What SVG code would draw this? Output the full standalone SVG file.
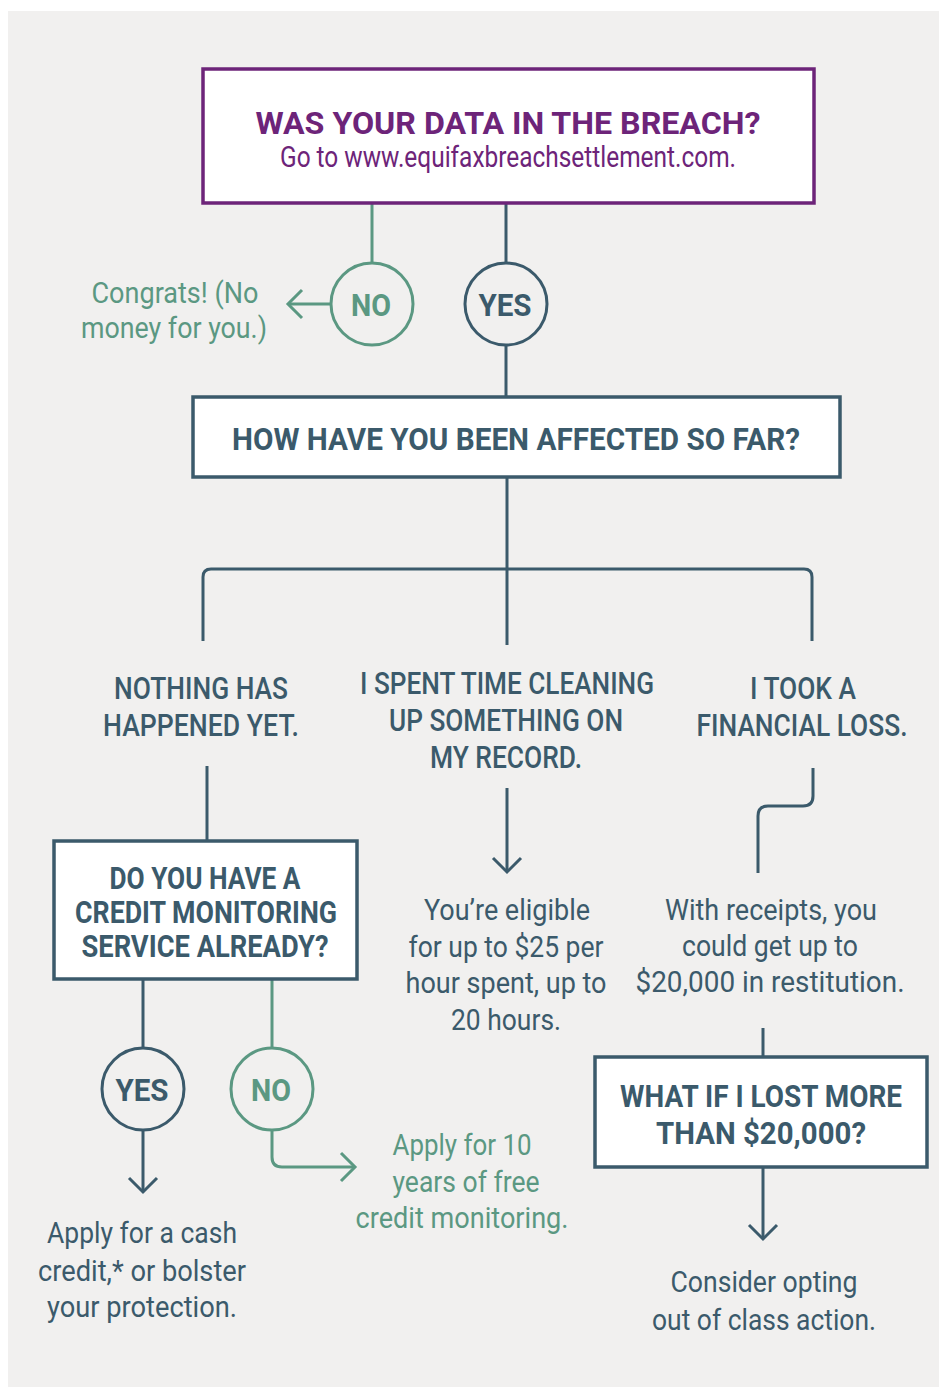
<svg xmlns="http://www.w3.org/2000/svg" width="939" height="1387" viewBox="0 0 939 1387">
<style>
text{font-family:"Roboto","Liberation Sans",sans-serif;}
.h{font-weight:bold;font-size:32px;fill:#3b5a6b;text-anchor:middle;}
.m{font-weight:500;font-size:32px;fill:#3b5a6b;text-anchor:middle;}
.b{font-size:30px;fill:#3b5a6b;text-anchor:middle;}
.g{fill:#5b9882;}
.p{fill:#6d2479;}
.ln{fill:none;stroke:#3b5a6b;stroke-width:3;}
.lg{fill:none;stroke:#5b9882;stroke-width:3;}
.box{fill:#ffffff;stroke:#3b5a6b;stroke-width:3.5;}
.circ{fill:none;stroke-width:3;}
</style>
<defs>
<marker id="ad" markerUnits="userSpaceOnUse" markerWidth="40" markerHeight="40" viewBox="-20 -20 40 40" refX="0" refY="0" orient="auto" overflow="visible">
<path d="M-14,-14 L0,0 L-14,14" fill="none" stroke="#3b5a6b" stroke-width="3"/>
</marker>
<marker id="ag" markerUnits="userSpaceOnUse" markerWidth="40" markerHeight="40" viewBox="-20 -20 40 40" refX="0" refY="0" orient="auto" overflow="visible">
<path d="M-14,-14 L0,0 L-14,14" fill="none" stroke="#5b9882" stroke-width="3"/>
</marker>
</defs>
<rect x="8" y="11" width="931" height="1376" fill="#f1f0ef"/>

<g id="connectors">
<path class="lg" d="M372,203 V263"/>
<path class="ln" d="M506,203 V263"/>
<path class="lg" d="M331,304 H288" marker-end="url(#ag)"/>
<path class="ln" d="M506,345 V397"/>
<path class="ln" d="M507,477 V645"/>
<path class="ln" d="M203,641 V577 Q203,569 211,569 H804 Q812,569 812,577 V641"/>
<path class="ln" d="M207,766 V841"/>
<path class="ln" d="M507,788 V872" marker-end="url(#ad)"/>
<path class="ln" d="M813,768 V796 Q813,806 803,806 H768 Q758,806 758,816 V873"/>
<path class="ln" d="M143,979 V1048"/>
<path class="lg" d="M272,979 V1048"/>
<path class="ln" d="M143,1130 V1192" marker-end="url(#ad)"/>
<path class="lg" d="M272,1130 V1157 Q272,1167 282,1167 H355" marker-end="url(#ag)"/>
<path class="ln" d="M763,1028 V1057"/>
<path class="ln" d="M763,1167 V1239" marker-end="url(#ad)"/>
</g>

<g id="n-breach">
<rect x="203" y="69" width="611" height="134" fill="#ffffff" stroke="#6d2479" stroke-width="3.5"/>
<text class="h p" x="508" y="134" font-size="34" textLength="505" lengthAdjust="spacingAndGlyphs">WAS YOUR DATA IN THE BREACH?</text>
<text class="b p" x="508" y="167" font-size="25" textLength="456" lengthAdjust="spacingAndGlyphs">Go to www.equifaxbreachsettlement.com.</text>
</g>

<g id="n-no1">
<circle class="circ" cx="372" cy="304" r="41" stroke="#5b9882"/>
<text class="h g" x="371" y="316" font-size="33" textLength="40" lengthAdjust="spacingAndGlyphs">NO</text>
</g>
<g id="n-yes1">
<circle class="circ" cx="506" cy="304" r="41" stroke="#3b5a6b"/>
<text class="h" x="505" y="316" font-size="33" textLength="53" lengthAdjust="spacingAndGlyphs">YES</text>
</g>
<g id="n-congrats">
<text class="b g" x="175" y="303" textLength="167" lengthAdjust="spacingAndGlyphs">Congrats! (No</text>
<text class="b g" x="174" y="338" textLength="186" lengthAdjust="spacingAndGlyphs">money for you.)</text>
</g>

<g id="n-affected">
<rect class="box" x="193" y="397" width="647" height="80"/>
<text class="h" x="516" y="450" textLength="568" lengthAdjust="spacingAndGlyphs">HOW HAVE YOU BEEN AFFECTED SO FAR?</text>
</g>

<g id="n-nothing">
<text class="m" x="201" y="699" textLength="174" lengthAdjust="spacingAndGlyphs">NOTHING HAS</text>
<text class="m" x="201" y="736" textLength="196" lengthAdjust="spacingAndGlyphs">HAPPENED YET.</text>
</g>
<g id="n-spent">
<text class="m" x="507" y="694" textLength="294" lengthAdjust="spacingAndGlyphs">I SPENT TIME CLEANING</text>
<text class="m" x="506" y="731" textLength="234" lengthAdjust="spacingAndGlyphs">UP SOMETHING ON</text>
<text class="m" x="506" y="768" textLength="152" lengthAdjust="spacingAndGlyphs">MY RECORD.</text>
</g>
<g id="n-loss">
<text class="m" x="803" y="699" textLength="106" lengthAdjust="spacingAndGlyphs">I TOOK A</text>
<text class="m" x="802" y="736" font-size="30" textLength="211" lengthAdjust="spacingAndGlyphs">FINANCIAL LOSS.</text>
</g>

<g id="n-monitoring">
<rect class="box" x="54" y="841" width="303" height="138"/>
<text class="h" x="205" y="889" font-size="30" textLength="191" lengthAdjust="spacingAndGlyphs">DO YOU HAVE A</text>
<text class="h" x="206" y="923" font-size="30" textLength="262" lengthAdjust="spacingAndGlyphs">CREDIT MONITORING</text>
<text class="h" x="205" y="957" font-size="30" textLength="247" lengthAdjust="spacingAndGlyphs">SERVICE ALREADY?</text>
</g>

<g id="n-eligible">
<text class="b" x="507" y="920" textLength="166" lengthAdjust="spacingAndGlyphs">You’re eligible</text>
<text class="b" x="506" y="957" textLength="195" lengthAdjust="spacingAndGlyphs">for up to $25 per</text>
<text class="b" x="506" y="993" textLength="201" lengthAdjust="spacingAndGlyphs">hour spent, up to</text>
<text class="b" x="506" y="1030" textLength="110" lengthAdjust="spacingAndGlyphs">20 hours.</text>
</g>

<g id="n-receipts">
<text class="b" x="771" y="920" textLength="212" lengthAdjust="spacingAndGlyphs">With receipts, you</text>
<text class="b" x="770" y="956" textLength="176" lengthAdjust="spacingAndGlyphs">could get up to</text>
<text class="b" x="770" y="992" textLength="269" lengthAdjust="spacingAndGlyphs">$20,000 in restitution.</text>
</g>

<g id="n-yes2">
<circle class="circ" cx="143" cy="1089" r="41" stroke="#3b5a6b"/>
<text class="h" x="142" y="1101" font-size="33" textLength="53" lengthAdjust="spacingAndGlyphs">YES</text>
</g>
<g id="n-no2">
<circle class="circ" cx="272" cy="1089" r="41" stroke="#5b9882"/>
<text class="h g" x="271" y="1101" font-size="33" textLength="40" lengthAdjust="spacingAndGlyphs">NO</text>
</g>

<g id="n-free">
<text class="b g" x="462" y="1155" textLength="139" lengthAdjust="spacingAndGlyphs">Apply for 10</text>
<text class="b g" x="466" y="1192" textLength="147" lengthAdjust="spacingAndGlyphs">years of free</text>
<text class="b g" x="462" y="1228" textLength="213" lengthAdjust="spacingAndGlyphs">credit monitoring.</text>
</g>

<g id="n-cash">
<text class="b" x="142" y="1243" textLength="190" lengthAdjust="spacingAndGlyphs">Apply for a cash</text>
<text class="b" x="142" y="1281" textLength="208" lengthAdjust="spacingAndGlyphs">credit,* or bolster</text>
<text class="b" x="142" y="1317" textLength="190" lengthAdjust="spacingAndGlyphs">your protection.</text>
</g>

<g id="n-more">
<rect class="box" x="595" y="1057" width="332" height="110"/>
<text class="h" x="761" y="1107" font-size="29" textLength="282" lengthAdjust="spacingAndGlyphs">WHAT IF I LOST MORE</text>
<text class="h" x="761" y="1144" font-size="29" textLength="210" lengthAdjust="spacingAndGlyphs">THAN $20,000?</text>
</g>

<g id="n-optout">
<text class="b" x="764" y="1292" textLength="187" lengthAdjust="spacingAndGlyphs">Consider opting</text>
<text class="b" x="764" y="1330" textLength="224" lengthAdjust="spacingAndGlyphs">out of class action.</text>
</g>
</svg>
